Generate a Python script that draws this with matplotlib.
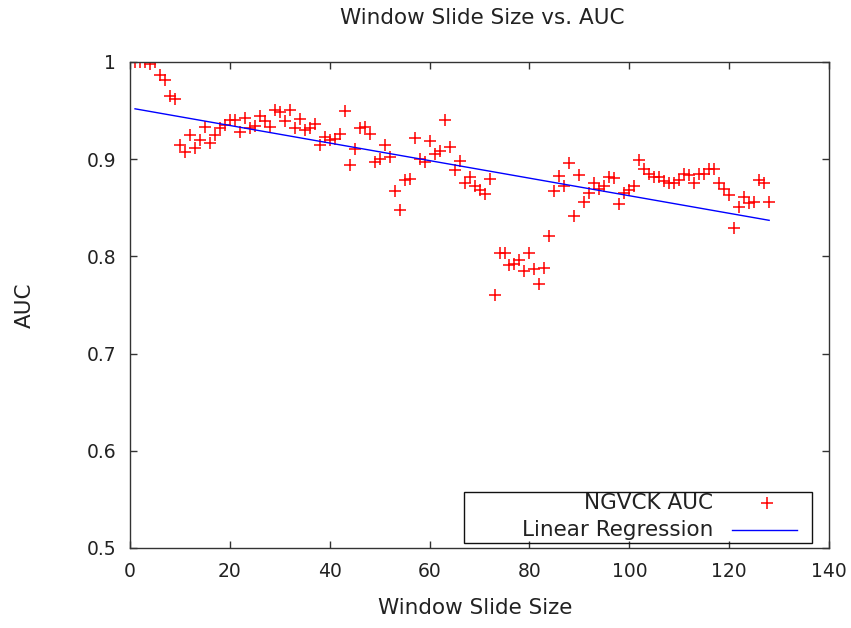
import numpy as np
import matplotlib
matplotlib.use("Agg")
import matplotlib.pyplot as plt
from matplotlib.patches import Rectangle

# window slide sizes 1..128 and the AUC
window_size = list(range(1, 129))
auc = [
    1.000, 1.000, 1.000, 0.998, 1.000, 0.987, 0.981, 0.965, 0.962, 0.915,
    0.907, 0.925, 0.912, 0.920, 0.933, 0.917, 0.925, 0.932, 0.935, 0.940,
    0.940, 0.928, 0.942, 0.932, 0.934, 0.944, 0.939, 0.933, 0.951, 0.949,
    0.939, 0.951, 0.932, 0.941, 0.930, 0.932, 0.936, 0.915, 0.923, 0.920,
    0.921, 0.926, 0.950, 0.894, 0.910, 0.932, 0.933, 0.926, 0.897, 0.900,
    0.915, 0.902, 0.867, 0.848, 0.879, 0.880, 0.922, 0.900, 0.897, 0.919,
    0.905, 0.908, 0.940, 0.913, 0.889, 0.898, 0.876, 0.882, 0.872, 0.868,
    0.864, 0.880, 0.760, 0.803, 0.803, 0.791, 0.792, 0.796, 0.785, 0.803,
    0.787, 0.772, 0.788, 0.821, 0.867, 0.883, 0.872, 0.896, 0.842, 0.884,
    0.856, 0.865, 0.876, 0.869, 0.872, 0.882, 0.881, 0.854, 0.865, 0.868,
    0.872, 0.899, 0.890, 0.885, 0.882, 0.882, 0.878, 0.875, 0.875, 0.879,
    0.885, 0.884, 0.875, 0.885, 0.885, 0.890, 0.890, 0.875, 0.869, 0.863,
    0.829, 0.851, 0.861, 0.855, 0.856, 0.879, 0.876, 0.856,
]
x_ticks = [0, 20, 40, 60, 80, 100, 120, 140]
y_ticks = [0.5, 0.6, 0.7, 0.8, 0.9, 1.0]
y_tick_labels = ["0.5", "0.6", "0.7", "0.8", "0.9", "1"]

TEXT = "#222222"


def main():
    plt.rcParams["font.family"] = "DejaVu Sans"
    x = np.array(window_size, dtype=float)
    y = np.array(auc)

    # least squares line through the points
    slope, intercept = np.polyfit(x, y, 1)
    fit = slope * x + intercept

    fig = plt.figure(figsize=(8.51, 6.28), dpi=100)
    ax = fig.add_axes([0.1528, 0.1274, 0.8214, 0.7739])

    ax.plot(x, y, linestyle="none", marker="+", color="#ff0000",
            markersize=8, markeredgewidth=1.1)
    ax.plot(x, fit, color="#0000ff", linewidth=1.0)

    ax.set_xlim(0, 140)
    ax.set_ylim(0.5, 1.0)
    ax.set_xticks(x_ticks)
    ax.set_yticks(y_ticks)
    ax.set_yticklabels(y_tick_labels)
    ax.tick_params(direction="in", length=5, width=1, top=True, right=True,
                   labelsize=13.5, colors="#333333", labelcolor=TEXT, pad=10)
    for s in ax.spines.values():
        s.set_color("#333333")
        s.set_linewidth(1.0)

    fig.text(482.5 / 851, 1 - 18 / 628, "Window Slide Size vs. AUC",
             ha="center", va="center", fontsize=15.5, color=TEXT)
    ax.set_xlabel("Window Slide Size", fontsize=15.5, color=TEXT, va="center")
    ax.xaxis.set_label_coords(0.494, -0.1235)
    ax.set_ylabel("AUC", fontsize=15.5, color=TEXT, va="center")
    ax.yaxis.set_label_coords(-0.150, 0.5)

    # gnuplot-style key: labels right aligned, sample on the right
    ax.add_patch(Rectangle((0.478, 0.0103), 0.498, 0.1047, transform=ax.transAxes,
                           fill=False, edgecolor="#111111", linewidth=1.0, zorder=5))
    ax.text(0.834, 0.0926, "NGVCK AUC", transform=ax.transAxes, ha="right",
            va="center", fontsize=15.5, color=TEXT)
    ax.text(0.834, 0.037, "Linear Regression", transform=ax.transAxes, ha="right",
            va="center", fontsize=15.5, color=TEXT)
    ax.plot([0.911], [0.0926], transform=ax.transAxes, marker="+", color="#ff0000",
            markersize=8, markeredgewidth=1.1, linestyle="none", clip_on=False)
    ax.plot([0.861, 0.954], [0.037, 0.037], transform=ax.transAxes,
            color="#0000ff", linewidth=1.0, clip_on=False)

    fig.savefig("out.png", dpi=100)


if __name__ == "__main__":
    main()
